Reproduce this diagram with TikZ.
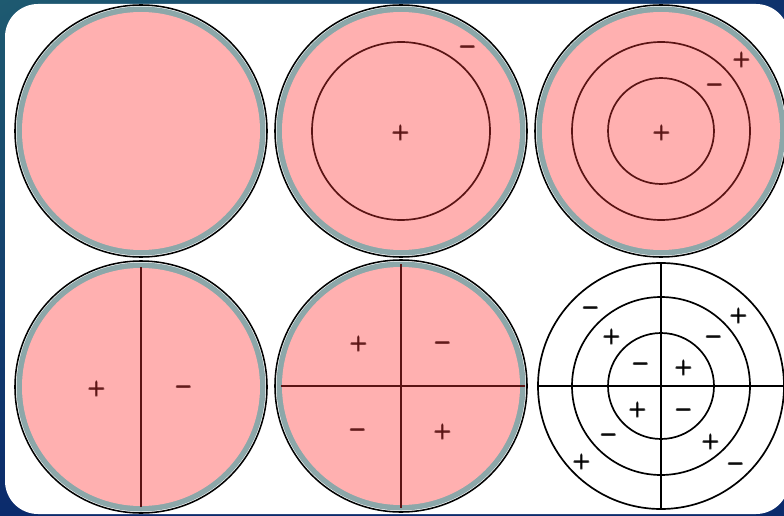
\documentclass[tikz,border=0pt]{standalone}
\usepackage{amsmath}
\usetikzlibrary{calc,shadings}
\definecolor{bgteal}{HTML}{1E5A70}
\definecolor{bgnavy}{HTML}{0B2B6C}
\definecolor{dishpink}{HTML}{FFB0B0}
\definecolor{rimgray}{HTML}{8CA7A9}
\definecolor{nodeline}{HTML}{5A1414}

\begin{document}
\begin{tikzpicture}[x=0.25mm,y=-0.25mm,
    rim/.style={draw=black,line width=1.1pt},
    nodal/.style={draw=nodeline,line width=1.2pt},
    chart/.style={draw=black,line width=1.2pt},
    sgn/.style={font=\Large\boldmath,text=nodeline,inner sep=0pt},
    sgnk/.style={sgn,text=black}]
    \useasboundingbox (0,0) rectangle (784,516);
    % backdrop and card
    \shade[upper left=bgteal,upper right=bgnavy!85!bgteal,
      lower left=bgnavy,lower right=bgnavy] (0,0) rectangle (784,516);
    \fill[white,rounded corners=8.25mm] (5,4) rectangle (789,514);
    % five plates with a grey rim
    \foreach \cx/\cy/\nm in {141/131/pa,401/131/pb,661/131/pc,141/387/pd,401/386/pe}{
      \coordinate (\nm) at (\cx,\cy);
      \draw[rim] (\nm) circle (126);
      \fill[rimgray] (\nm) circle (124.5);
      \fill[dishpink] (\nm) circle (119);}
    % nodal circles and nodal lines
    \draw[nodal] (pb) circle (89);
    \draw[nodal] (pc) circle (53) (pc) circle (89);
    \draw[nodal] ($(pd)+(0,-120)$) -- ($(pd)+(0,120)$);
    \draw[nodal] ($(pe)+(0,-122)$) -- ($(pe)+(0,122)$);
    \draw[nodal] ($(pe)+(-120,0)$) -- ($(pe)+(124,0)$);
    % the open chart
    \coordinate (pf) at (661,386);
    \draw[chart] (pf) circle (123) (pf) circle (89) (pf) circle (53);
    \draw[chart] ($(pf)+(0,-124)$) -- ($(pf)+(0,124)$);
    \draw[chart] ($(pf)+(-124,0)$) -- ($(pf)+(123,0)$);
    % signs on the plates
    \foreach \x/\y/\s/\nm in {401/133/+/b1,468/47/-/b2,
      662/133/+/c1,742/60/+/c2,715/85/-/c3,
      97/389/+/d1,184/387/-/d2,
      359/344/+/e1,443/343/-/e2,358/430/-/e3,443/432/+/e4}{
      \node[sgn] (s\nm) at (\x,\y) {$\pmb{\s}$};}
    % signs on the chart
    \foreach \x/\y/\s/\nm in {591/308/-/1,739/316/+/2,612/337/+/3,714/337/-/4,
      641/364/-/5,684/368/+/6,638/410/+/7,684/410/-/8,
      609/435/-/9,711/442/+/10,582/462/+/11,736/464/-/12}{
      \node[sgnk] (f\nm) at (\x,\y) {$\pmb{\s}$};}
\end{tikzpicture}
\end{document}
